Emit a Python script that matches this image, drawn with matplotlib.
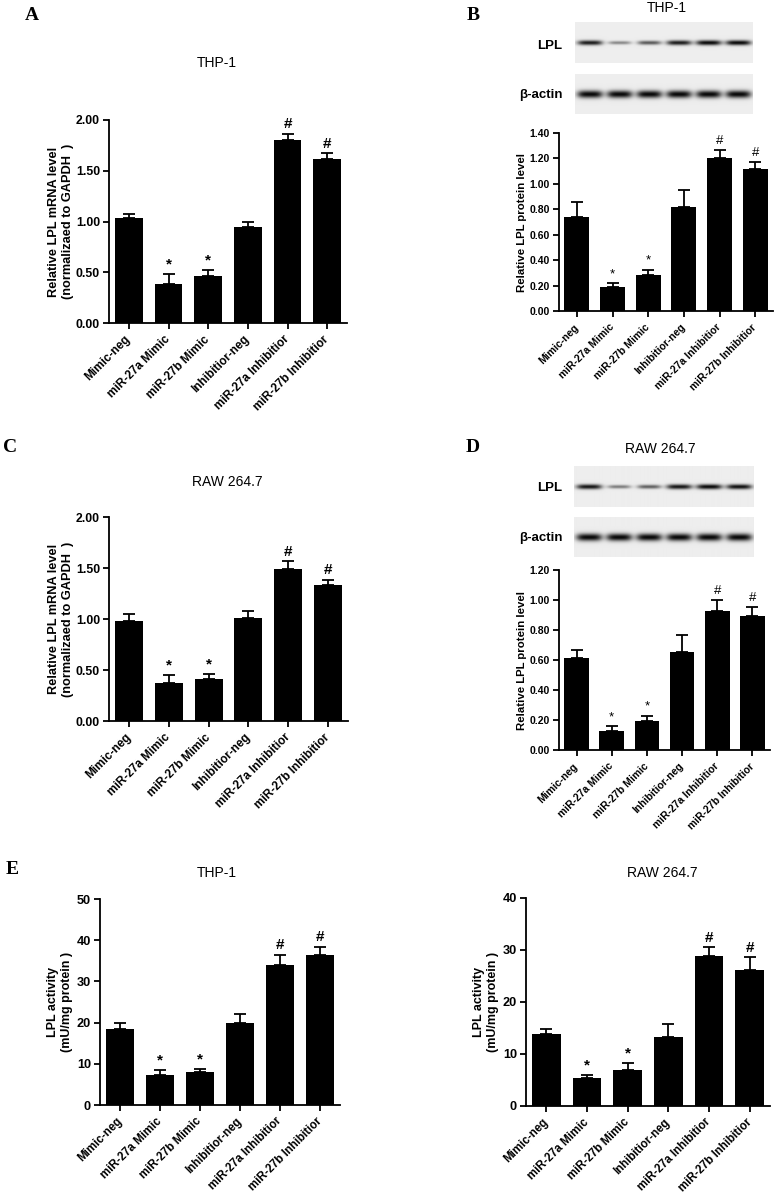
import numpy as np
import matplotlib.pyplot as plt

plt.rcParams['font.family'] = ['Liberation Sans', 'DejaVu Sans']
plt.rcParams['font.weight'] = 'bold'

W, H = 776, 1199

groups = ['Mimic-neg', 'miR-27a Mimic', 'miR-27b Mimic', 'Inhibitior-neg',
          'miR-27a Inhibitior', 'miR-27b Inhibitior']
marks = ['', '*', '*', '', '#', '#']

# A: THP-1 mRNA
a_mean = [1.03, 0.38, 0.46, 0.95, 1.80, 1.62]
a_err = [0.04, 0.10, 0.06, 0.05, 0.06, 0.05]
# B: THP-1 protein
b_mean = [0.74, 0.19, 0.285, 0.82, 1.20, 1.12]
b_err = [0.12, 0.03, 0.04, 0.13, 0.07, 0.055]
# C: RAW 264.7 mRNA
c_mean = [0.98, 0.37, 0.41, 1.01, 1.49, 1.33]
c_err = [0.07, 0.08, 0.05, 0.07, 0.075, 0.05]
# D: RAW 264.7 protein
d_mean = [0.615, 0.125, 0.195, 0.653, 0.93, 0.896]
d_err = [0.053, 0.032, 0.035, 0.116, 0.07, 0.06]
# E: LPL activity
e1_mean = [18.4, 7.3, 8.0, 19.8, 34.1, 36.3]
e1_err = [1.5, 1.1, 0.7, 2.2, 2.4, 2.1]
e2_mean = [13.8, 5.3, 6.9, 13.2, 28.8, 26.1]
e2_err = [1.0, 0.7, 1.3, 2.5, 1.7, 2.5]

# band strength of western blots (0 = none, 1 = full)
b_lpl = [0.92, 0.45, 0.65, 0.92, 1.0, 1.0]
b_actin = [1.0, 1.0, 1.0, 1.0, 1.0, 1.0]
d_lpl = [0.95, 0.5, 0.62, 0.95, 1.0, 0.97]
d_actin = [1.0, 1.0, 1.0, 1.0, 1.0, 1.0]

fig = plt.figure(figsize=(W / 100, H / 100), dpi=100)


def box(l, r, t, b):
    return fig.add_axes([l / W, 1 - b / H, (r - l) / W, (b - t) / H])


def ftext(x, y, s, **kw):
    fig.text(x / W, 1 - y / H, s, **kw)


def bar_panel(l, r, t, b, mean, err, ymax, step, fmt, ylabel, lab_x,
              yfs, xfs, lfs, mfs, mweight):
    ax = box(l, r, t, b)
    x = np.arange(len(groups))
    ax.bar(x, mean, width=0.7, color='black', zorder=2)
    ax.errorbar(x, mean, yerr=[np.zeros(len(err)), err], fmt='none', ecolor='black',
                elinewidth=1.3, capsize=4, capthick=1.3, zorder=1)
    for xi, m, e, s in zip(x, mean, err, marks):
        if s:
            ax.annotate(s, (xi, m + e), xytext=(0, 2), textcoords='offset points',
                        ha='center', va='bottom', fontsize=mfs, fontweight=mweight)
    ax.set_xlim(-0.5, 5.5)
    ax.set_ylim(0, ymax)
    ax.set_yticks(np.arange(0, ymax + step / 2, step))
    ax.set_yticklabels([fmt % v for v in np.arange(0, ymax + step / 2, step)])
    ax.set_xticks(x)
    ax.set_xticklabels(groups, rotation=45, ha='right', rotation_mode='anchor', va='center')
    for sp in ['top', 'right']:
        ax.spines[sp].set_visible(False)
    for sp in ['left', 'bottom']:
        ax.spines[sp].set_linewidth(1.3)
    ax.tick_params(width=1.3, length=4.5, pad=2)
    ax.tick_params(axis='y', labelsize=yfs)
    ax.tick_params(axis='x', labelsize=xfs, pad=6)
    for lbl in ax.get_xticklabels() + ax.get_yticklabels():
        lbl.set_fontweight('bold')
    ftext(lab_x, (t + b) / 2, ylabel, rotation=90, ha='center', va='center',
          fontsize=lfs, fontweight='bold', linespacing=1.25)
    return ax


def blot(l, r, t, b, strengths, thick):
    ax = box(l, r, t, b)
    w, h = int(r - l) * 2, int(b - t) * 2
    yy, xx = np.mgrid[0:h, 0:w]
    img = np.full((h, w), 0.93)
    lane = w / len(strengths)
    for i, s in enumerate(strengths):
        cx = (i + 0.5) * lane
        hw = lane * 0.43 * (0.8 + 0.2 * s)
        prof = np.exp(-((xx - cx) / hw) ** 4) * np.exp(-((yy - h / 2) / (thick * s ** 0.5)) ** 2)
        img -= 0.9 * s * prof
    ax.imshow(np.clip(img, 0, 1), cmap='gray', vmin=0, vmax=1, aspect='auto',
              interpolation='bilinear')
    ax.set_axis_off()
    return ax


# panel A
bar_panel(109, 347, 120, 323, a_mean, a_err, 2.0, 0.5, '%.2f',
          'Relative LPL mRNA level\n(normalizaed to GAPDH  )', 61, 8.8, 8.5, 9.2, 11, 'bold')
ftext(217, 63, 'THP-1', ha='center', va='center', fontsize=10, fontweight='normal')
ftext(32, 15, 'A', ha='center', va='center', fontsize=14, fontweight='bold',
      family='Liberation Serif')

# panel B
bar_panel(559, 773, 133, 311, b_mean, b_err, 1.4, 0.2, '%.2f',
          'Relative LPL protein level', 522, 7.5, 7.5, 8.2, 9.5, 'normal')
blot(575, 753, 22, 63, b_lpl, 5)
blot(575, 753, 74, 114, b_actin, 7.5)
ftext(562, 46, 'LPL', ha='right', va='center', fontsize=9.5, fontweight='bold')
ftext(563, 95, 'β-actin', ha='right', va='center', fontsize=9.5, fontweight='bold')
ftext(667, 8, 'THP-1', ha='center', va='center', fontsize=10, fontweight='normal')
ftext(473, 15, 'B', ha='center', va='center', fontsize=14, fontweight='bold',
      family='Liberation Serif')

# panel C
bar_panel(109, 348, 517, 721, c_mean, c_err, 2.0, 0.5, '%.2f',
          'Relative LPL mRNA level\n(normalizaed to GAPDH  )', 61, 8.8, 8.5, 9.2, 11, 'bold')
ftext(227, 482, 'RAW 264.7', ha='center', va='center', fontsize=10, fontweight='normal')
ftext(10, 447, 'C', ha='center', va='center', fontsize=14, fontweight='bold',
      family='Liberation Serif')

# panel D
bar_panel(559, 770, 570, 750, d_mean, d_err, 1.2, 0.2, '%.2f',
          'Relative LPL protein level', 522, 7.5, 7.5, 8.2, 9.5, 'normal')
blot(574, 753, 466, 507, d_lpl, 5)
blot(574, 753, 517, 557, d_actin, 7.5)
ftext(562, 488, 'LPL', ha='right', va='center', fontsize=9.5, fontweight='bold')
ftext(563, 538, 'β-actin', ha='right', va='center', fontsize=9.5, fontweight='bold')
ftext(660, 449, 'RAW 264.7', ha='center', va='center', fontsize=10, fontweight='normal')
ftext(473, 447, 'D', ha='center', va='center', fontsize=14, fontweight='bold',
      family='Liberation Serif')

# panel E
bar_panel(100, 340, 899, 1105, e1_mean, e1_err, 50, 10, '%d',
          'LPL activity\n(mU/mg protein )', 60, 9.2, 8.3, 9, 11, 'bold')
ftext(217, 873, 'THP-1', ha='center', va='center', fontsize=10, fontweight='normal')
bar_panel(526, 770, 898, 1106, e2_mean, e2_err, 40, 10, '%d',
          'LPL activity\n(mU/mg protein )', 486, 9.2, 8.3, 9, 11, 'bold')
ftext(662, 873, 'RAW 264.7', ha='center', va='center', fontsize=10, fontweight='normal')
ftext(12, 869, 'E', ha='center', va='center', fontsize=14, fontweight='bold',
      family='Liberation Serif')

fig.savefig('out.png', dpi=100)
